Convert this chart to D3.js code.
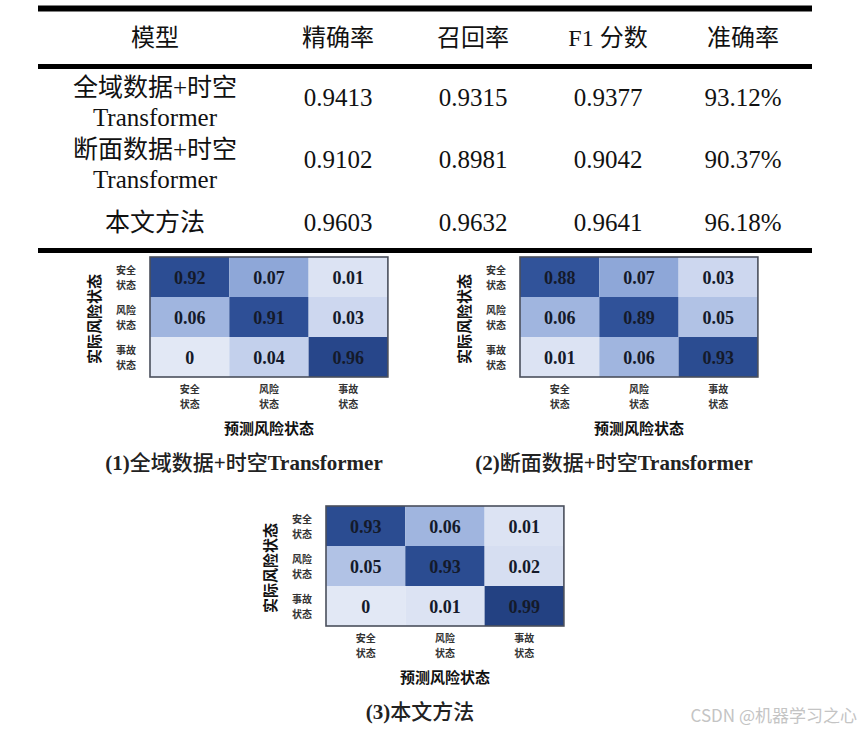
<!DOCTYPE html>
<html>
<head>
<meta charset="utf-8">
<script src="https://cdn.jsdelivr.net/npm/d3@7"></script>
<style>
  html, body { margin: 0; padding: 0; background: #ffffff; }
  svg { display: block; }
</style>
</head>
<body>
<svg id="chart" width="862" height="729"></svg>
<script>
// ---------- DATA ----------
const tableHeaders = ["模型", "精确率", "召回率", "F1 分数", "准确率"];
const models = [["全域数据+时空", "Transformer"], ["断面数据+时空", "Transformer"], ["本文方法"]];
const precision = [0.9413, 0.9102, 0.9603];
const recall = [0.9315, 0.8981, 0.9632];
const f1Score = [0.9377, 0.9042, 0.9641];
const accuracy = [93.12, 90.37, 96.18];

const classes = [["安全", "状态"], ["风险", "状态"], ["事故", "状态"]];
const cm1 = [[0.92, 0.07, 0.01], [0.06, 0.91, 0.03], [0, 0.04, 0.96]];
const cm2 = [[0.88, 0.07, 0.03], [0.06, 0.89, 0.05], [0.01, 0.06, 0.93]];
const cm3 = [[0.93, 0.06, 0.01], [0.05, 0.93, 0.02], [0, 0.01, 0.99]];
const captions = ["(1)全域数据+时空Transformer", "(2)断面数据+时空Transformer", "(3)本文方法"];
const yTitle = "实际风险状态";
const xTitle = "预测风险状态";
const watermark = "CSDN @机器学习之心";

// ---------- SETUP ----------
const svg = d3.select("#chart");
const serif = "'Liberation Serif', 'Times New Roman', 'Noto Sans CJK SC', serif";
const cjk = "'Noto Sans CJK SC', 'Liberation Serif', serif";

// ---------- TABLE ----------
const metricCols = tableHeaders.slice(1);
const xMetric = d3.scalePoint().domain(metricCols).range([338, 743]);
const xModel = 155;
const yRow = d3.scalePoint().domain(d3.range(models.length)).range([97, 222]);

const table = svg.append("g");
[{y: 8.5, w: 6}, {y: 66.5, w: 5}, {y: 250.5, w: 5}].forEach(r => {
  table.append("line").attr("x1", 38).attr("x2", 812).attr("y1", r.y).attr("y2", r.y)
    .attr("stroke", "#000").attr("stroke-width", r.w);
});
table.selectAll("text.hdr").data(tableHeaders).join("text")
  .attr("class", "hdr")
  .attr("x", (d, i) => i === 0 ? xModel : xMetric(d))
  .attr("y", 38)
  .attr("text-anchor", "middle").attr("dominant-baseline", "central")
  .style("font-family", serif).style("font-size", "24px").attr("fill", "#111")
  .text(d => d);

models.forEach((lines, i) => {
  const cy = yRow(i);
  lines.forEach((ln, k) => {
    table.append("text")
      .attr("x", xModel)
      .attr("y", lines.length === 1 ? cy : cy - 10 + k * 30)
      .attr("text-anchor", "middle").attr("dominant-baseline", "central")
      .style("font-family", serif).style("font-size", "25px").attr("fill", "#111")
      .text(ln);
  });
});

const fmt4 = d3.format(".4f");
const metricValues = [
  precision.map(fmt4),
  recall.map(fmt4),
  f1Score.map(fmt4),
  accuracy.map(v => d3.format(".2f")(v) + "%")
];
metricCols.forEach((m, j) => {
  table.selectAll(null).data(metricValues[j]).join("text")
    .attr("x", xMetric(m))
    .attr("y", (d, i) => yRow(i))
    .attr("text-anchor", "middle").attr("dominant-baseline", "central")
    .style("font-family", serif).style("font-size", "25px").attr("fill", "#111")
    .text(d => d);
});

// ---------- CONFUSION MATRICES ----------
const color = d3.scaleLinear()
  .domain([0, 0.02, 0.04, 0.07, 0.5, 0.9, 1])
  .range(["#e2e8f5", "#d6def1", "#c3d0ec", "#8ea7d8", "#5a7cbf", "#2f5198", "#223f80"])
  .clamp(true);

const panels = [
  {data: cm1, left: 150, top: 257, cap: captions[0]},
  {data: cm2, left: 520, top: 257, cap: captions[1]},
  {data: cm3, left: 326, top: 506, cap: captions[2]}
];
const cellW = 79.3, cellH = 40;

panels.forEach(p => {
  const g = svg.append("g");
  const W = cellW * 3, H = cellH * 3;
  const x = d3.scaleBand().domain(d3.range(3)).range([p.left, p.left + W]);
  const y = d3.scaleBand().domain(d3.range(3)).range([p.top, p.top + H]);
  const cells = p.data.flatMap((row, r) => row.map((v, c) => ({r, c, v})));

  g.selectAll("rect.cell").data(cells).join("rect")
    .attr("class", "cell")
    .attr("x", d => x(d.c)).attr("y", d => y(d.r))
    .attr("width", x.bandwidth()).attr("height", y.bandwidth())
    .attr("fill", d => color(d.v));

  g.append("rect").attr("x", p.left).attr("y", p.top).attr("width", W).attr("height", H)
    .attr("fill", "none").attr("stroke", "#4a4f5c").attr("stroke-width", 1.6);

  g.selectAll("text.val").data(cells).join("text")
    .attr("class", "val")
    .attr("x", d => x(d.c) + x.bandwidth() / 2)
    .attr("y", d => y(d.r) + y.bandwidth() / 2 + 1)
    .attr("text-anchor", "middle").attr("dominant-baseline", "central")
    .style("font-family", serif).style("font-size", "18px").style("font-weight", "bold")
    .attr("fill", "#141a2a")
    .text(d => d.v === 0 ? "0" : d3.format(".2f")(d.v));

  // row labels (one text per line)
  classes.forEach((lines, r) => {
    lines.forEach((ln, k) => {
      g.append("text")
        .attr("x", p.left - 24)
        .attr("y", y(r) + y.bandwidth() / 2 - 7.5 + k * 15)
        .attr("text-anchor", "middle").attr("dominant-baseline", "central")
        .style("font-family", cjk).style("font-size", "10px").style("font-weight", "bold").attr("fill", "#333")
        .text(ln);
    });
  });
  // column labels
  classes.forEach((lines, c) => {
    lines.forEach((ln, k) => {
      g.append("text")
        .attr("x", x(c) + x.bandwidth() / 2)
        .attr("y", p.top + H + 11 + k * 15)
        .attr("text-anchor", "middle").attr("dominant-baseline", "central")
        .style("font-family", cjk).style("font-size", "10px").style("font-weight", "bold").attr("fill", "#333")
        .text(ln);
    });
  });
  // y title
  g.append("text")
    .attr("transform", `translate(${p.left - 57},${p.top + H / 2 + 2}) rotate(-90)`)
    .attr("text-anchor", "middle").attr("dominant-baseline", "central")
    .style("font-family", cjk).style("font-size", "15px").style("font-weight", "bold").attr("fill", "#111")
    .text(yTitle);
  // x title
  g.append("text")
    .attr("x", p.left + W / 2).attr("y", p.top + H + 50)
    .attr("text-anchor", "middle").attr("dominant-baseline", "central")
    .style("font-family", cjk).style("font-size", "15px").style("font-weight", "bold").attr("fill", "#111")
    .text(xTitle);
  // caption: CJK runs regular, Latin runs bold
  const cap = g.append("text")
    .attr("x", p.left + W / 2 - 25).attr("y", p.top + H + 86)
    .attr("text-anchor", "middle").attr("dominant-baseline", "central")
    .style("font-family", serif).style("font-size", "21px").attr("fill", "#222");
  const runs = p.cap.match(/[\u4e00-\u9fff]+|[^\u4e00-\u9fff]+/g);
  runs.forEach(run => {
    cap.append("tspan")
      .style("font-weight", /[\u4e00-\u9fff]/.test(run) ? "500" : "bold")
      .text(run);
  });
});

// ---------- WATERMARK ----------
svg.append("text")
  .attr("x", 857).attr("y", 714)
  .attr("text-anchor", "end").attr("dominant-baseline", "central")
  .style("font-family", "'Noto Sans CJK SC', sans-serif").style("font-size", "17px")
  .attr("fill", "#c4c4c4")
  .text(watermark);
</script>
</body>
</html>
